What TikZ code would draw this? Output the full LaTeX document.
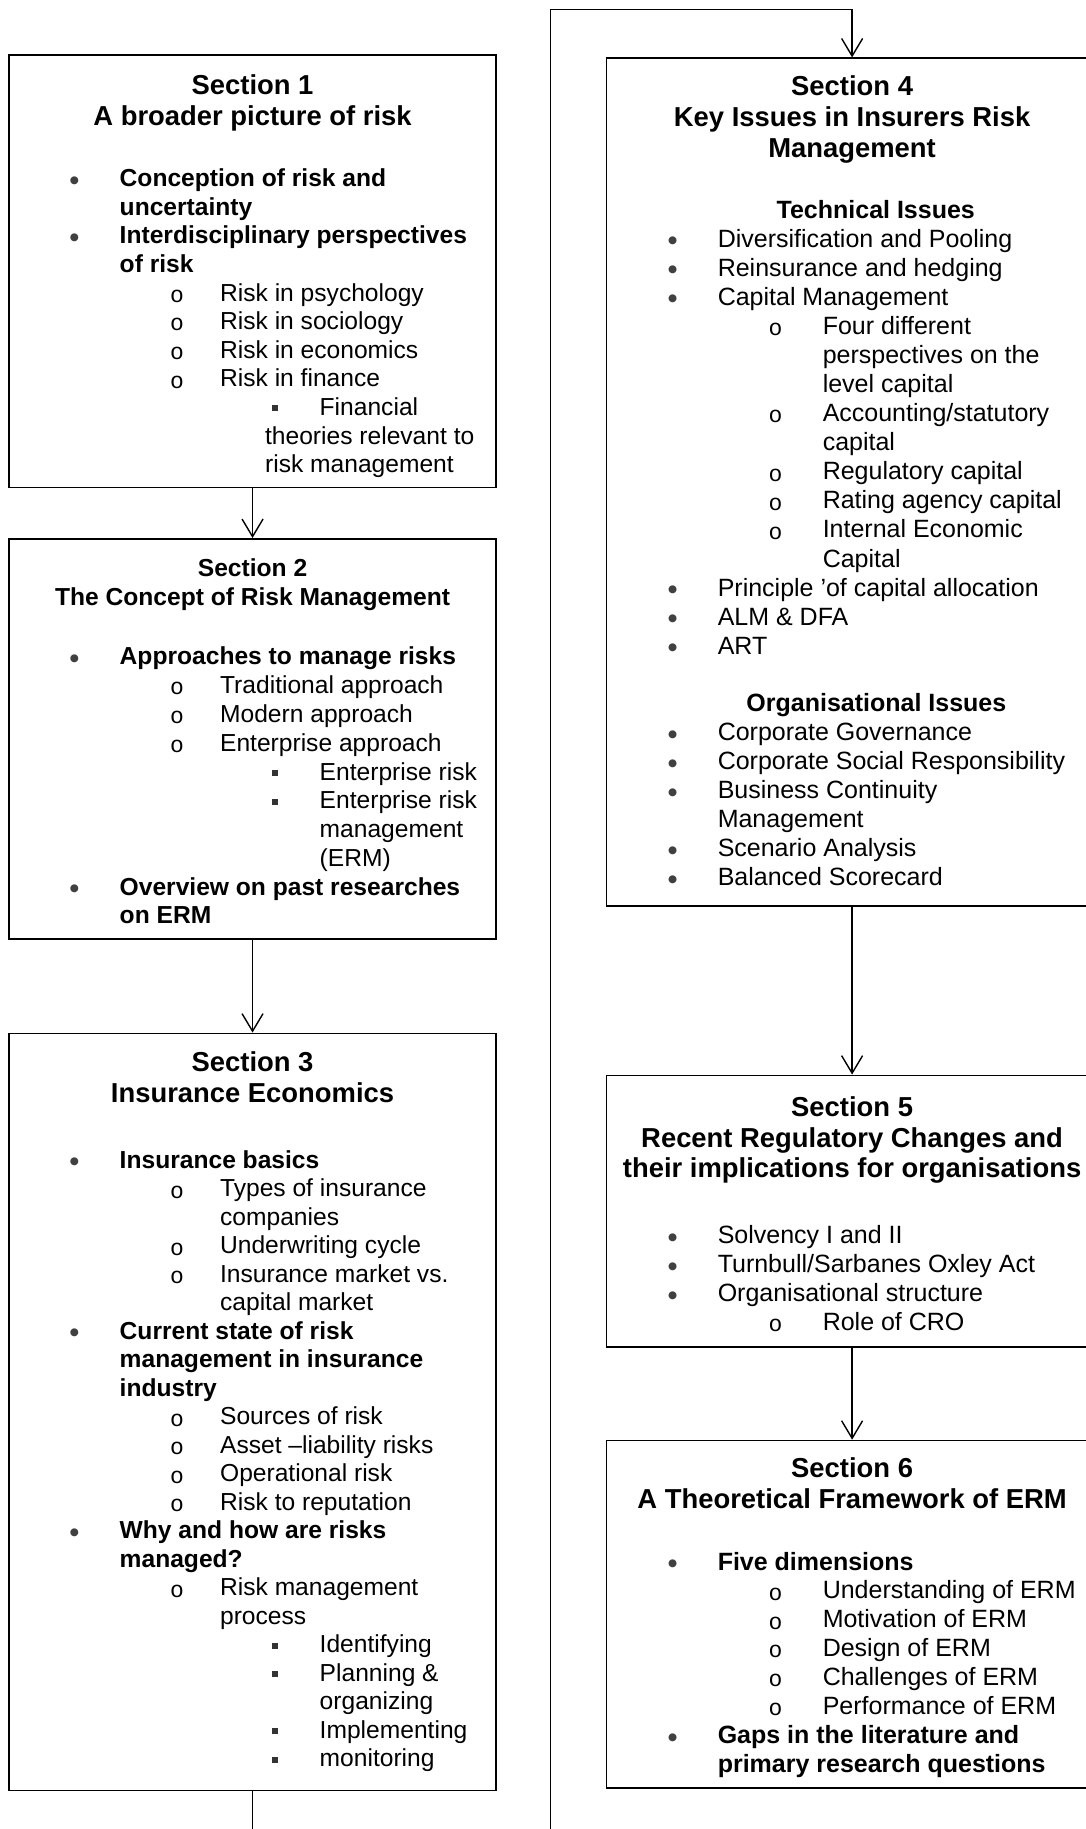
\documentclass[tikz,border=0pt]{standalone}
\usepackage{fontspec}
\setmainfont{Liberation Sans}
\newfontfamily\monofnt{Liberation Mono}
\newfontfamily\symfnt{DejaVu Sans}
\usetikzlibrary{arrows.meta,fit}

% bullet glyphs for the three list levels
\newcommand\bulA{\raisebox{1.7pt}{\symfnt\fontsize{5.2pt}{5.2pt}\selectfont\color{black!75}●}}
\newcommand\bulB{\raisebox{-0.6pt}{\monofnt\fontsize{11.5pt}{11.5pt}\selectfont o}}
\newcommand\bulC{\raisebox{2pt}{\color{black!80}\rule{3pt}{3pt}}}

% one list line: bullet centred at #1, text starting at #3
\newcommand\itm[4]{\hbox{\kern#1\hbox to 0pt{\hss#2\hss}\kern\dimexpr#3-#1\relax #4}}
% one line centred at #1
\newcommand\ctrline[2]{\hbox{\kern#1\hbox to 0pt{\hss#2\hss}}}
% a stack of lines with fixed baseline distance; baseline = first line
\newcommand\vlines[2]{\vtop{\baselineskip=#1\lineskiplimit=-100pt\lineskip=0pt #2}}

% left column levels
\newcommand\LA[1]{\itm{32.3pt}{\bulA}{55pt}{\bfseries#1}}
\newcommand\LAc[1]{\itm{0pt}{}{55pt}{\bfseries#1}}
\newcommand\LB[1]{\itm{83.6pt}{\bulB}{105.2pt}{#1}}
\newcommand\LBc[1]{\itm{0pt}{}{105.2pt}{#1}}
\newcommand\LC[1]{\itm{132.6pt}{\bulC}{155pt}{#1}}
\newcommand\LCc[1]{\itm{0pt}{}{155pt}{#1}}
% right column levels
\newcommand\RA[1]{\itm{32.9pt}{\bulA}{55.4pt}{#1}}
\newcommand\RAc[1]{\itm{0pt}{}{55.4pt}{#1}}
\newcommand\RB[1]{\itm{84.3pt}{\bulB}{107.9pt}{#1}}
\newcommand\RBc[1]{\itm{0pt}{}{107.9pt}{#1}}

\tikzset{
  box/.style={draw, line width=0.9pt, inner sep=0pt},
  ttl/.style={anchor=base, inner sep=0pt, font=\bfseries\fontsize{13.7pt}{15.4pt}\selectfont},
  ttlsmall/.style={anchor=base, inner sep=0pt, font=\bfseries\fontsize{12.3pt}{14.4pt}\selectfont},
  lbody/.style={anchor=base west, inner sep=0pt, font=\fontsize{12.3pt}{14.5pt}\selectfont},
  rbody/.style={anchor=base west, inner sep=0pt, font=\fontsize{12.5pt}{14.6pt}\selectfont},
  conn/.style={line width=0.7pt, -{Straight Barb[length=8.8pt,width=10.5pt,line width=0.7pt]}},
  link/.style={line width=0.7pt}
}

\begin{document}
\begin{tikzpicture}[x=0.58325pt, y=-0.58325pt]
\useasboundingbox (0,0) rectangle (931,1568);
\clip (0,0) rectangle (931,1568);

% ---------- left column ----------
\node[box, fit={(8,47) (425,418)}] (s1) {};
\node[ttl] (s1t) at (216.5,81) {\vlines{15.4pt}{\ctrline{0pt}{Section 1}\ctrline{0pt}{A broader picture of risk}}};
\node[lbody] (s1l) at (8,160) {\vlines{14.3pt}{%
\LA{Conception of risk and}
\LAc{uncertainty}
\LA{Interdisciplinary perspectives}
\LAc{of risk}
\LB{Risk in psychology}
\LB{Risk in sociology}
\LB{Risk in economics}
\LB{Risk in finance}
\LC{Financial}
\itm{0pt}{}{127.7pt}{theories relevant to}
\itm{0pt}{}{127.7pt}{risk management}}};

\node[box, fit={(8,462) (425,805)}] (s2) {};
\node[ttlsmall] (s2t) at (216.5,494.5) {\vlines{14.4pt}{\ctrline{0pt}{Section 2}\ctrline{0pt}{The Concept of Risk Management}}};
\node[lbody] (s2l) at (8,570) {\vlines{14.39pt}{%
\LA{Approaches to manage risks}
\LB{Traditional approach}
\LB{Modern approach}
\LB{Enterprise approach}
\LC{Enterprise risk}
\LC{Enterprise risk}
\LCc{management}
\LCc{(ERM)}
\LA{Overview on past researches}
\LAc{on ERM}}};

\node[box, fit={(8,886) (425,1535)}] (s3) {};
\node[ttl] (s3t) at (216.5,919) {\vlines{15.4pt}{\ctrline{0pt}{Section 3}\ctrline{0pt}{Insurance Economics}}};
\node[lbody] (s3l) at (8,1001.6) {\vlines{14.25pt}{%
\LA{Insurance basics}
\LB{Types of insurance}
\LBc{companies}
\LB{Underwriting cycle}
\LB{Insurance market vs.}
\LBc{capital market}
\LA{Current state of risk}
\LAc{management in insurance}
\LAc{industry}
\LB{Sources of risk}
\LB{Asset –liability risks}
\LB{Operational risk}
\LB{Risk to reputation}
\LA{Why and how are risks}
\LAc{managed?}
\LB{Risk management}
\LBc{process}
\LC{Identifying}
\LC{Planning \&}
\LCc{organizing}
\LC{Implementing}
\LC{monitoring}}};

% ---------- right column ----------
\node[box, fit={(520,50) (941,777)}] (s4) {};
\node[ttl] (s4t) at (730.5,82) {\vlines{15.4pt}{\ctrline{0pt}{Section 4}\ctrline{0pt}{Key Issues in Insurers Risk}\ctrline{0pt}{Management}}};
\node[rbody] (s4l) at (520,187) {\vlines{14.54pt}{%
\ctrline{134.4pt}{\bfseries Technical Issues}
\RA{Diversification and Pooling}
\RA{Reinsurance and hedging}
\RA{Capital Management}
\RB{Four different}
\RBc{perspectives on the}
\RBc{level capital}
\RB{Accounting/statutory}
\RBc{capital}
\RB{Regulatory capital}
\RB{Rating agency capital}
\RB{Internal Economic}
\RBc{Capital}
\RA{Principle 'of capital allocation}
\RA{ALM \& DFA}
\RA{ART}
\vskip 14pt
\ctrline{134.7pt}{\bfseries Organisational Issues}
\RA{Corporate Governance}
\RA{Corporate Social Responsibility}
\RA{Business Continuity}
\RAc{Management}
\RA{Scenario Analysis}
\RA{Balanced Scorecard}}};

\node[box, fit={(520,922) (941,1155)}] (s5) {};
\node[ttl] (s5t) at (730.5,957) {\vlines{15.4pt}{\ctrline{0pt}{Section 5}\ctrline{0pt}{Recent Regulatory Changes and}\ctrline{0pt}{their implications for organisations}}};
\node[rbody] (s5l) at (520,1066) {\vlines{14.5pt}{%
\RA{Solvency I and II}
\RA{Turnbull/Sarbanes Oxley Act}
\RA{Organisational structure}
\RB{Role of CRO}}};

\node[box, fit={(520,1235) (941,1533)}] (s6) {};
\node[ttl] (s6t) at (730.5,1267) {\vlines{15.4pt}{\ctrline{0pt}{Section 6}\ctrline{0pt}{A Theoretical Framework of ERM}}};
\node[rbody] (s6l) at (520,1346) {\vlines{14.45pt}{%
\RA{\bfseries Five dimensions}
\RB{Understanding of ERM}
\RB{Motivation of ERM}
\RB{Design of ERM}
\RB{Challenges of ERM}
\RB{Performance of ERM}
\RA{\bfseries Gaps in the literature and}
\RAc{\bfseries primary research questions}}};

% ---------- connectors ----------
\draw[conn] (s1) -- (s2);
\draw[conn] (s2) -- (s3);
\coordinate (low) at (472,1600);
\coordinate (high) at (472,8);
\draw[conn] (s3.south) |- (low) -- (high) -| (s4.north);
\draw[conn] (s4) -- (s5);
\draw[conn] (s5) -- (s6);
\end{tikzpicture}
\end{document}
